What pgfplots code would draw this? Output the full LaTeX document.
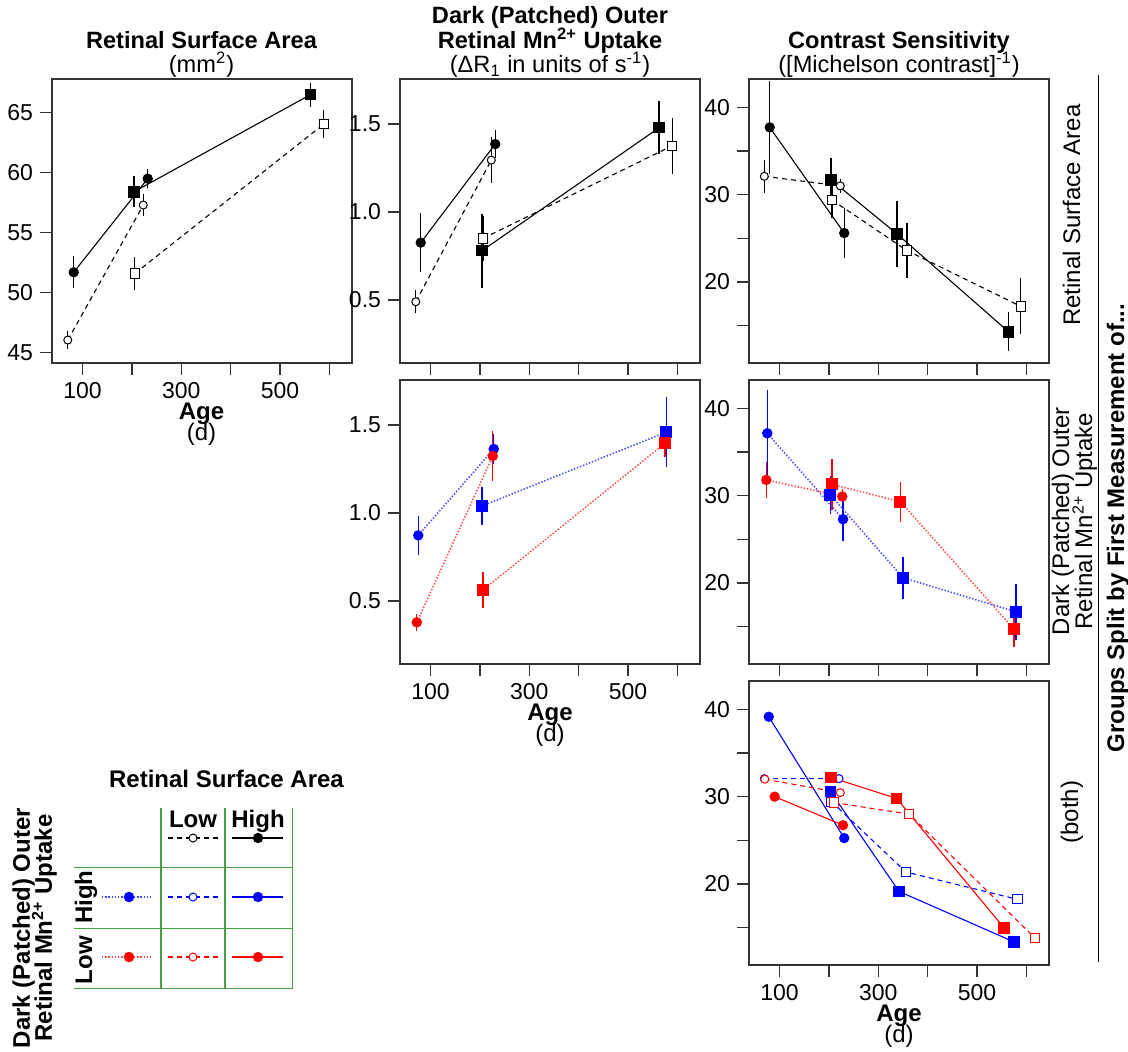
\documentclass[border=0pt]{standalone}
\usepackage{pgfplots}
\pgfplotsset{compat=1.18}
\usepackage{fontspec}
\setmainfont{Liberation Sans}

\definecolor{axgray}{gray}{0.2}
\definecolor{lgreen}{RGB}{70,160,70}
\newcommand\tightlines{\setlength{\lineskiplimit}{-30pt}}

\pgfplotsset{
  panel/.style={
    scale only axis, width=150pt, height=142pt, anchor=north west,
    xmin=38, xmax=646,
    axis line style={axgray, line width=0.6pt},
    tick align=outside, major tick length=6pt,
    every tick/.style={axgray, line width=0.6pt},
    xtick={100,200,300,400,500,600}, xticklabels={},
    xtick pos=lower, ytick pos=left,
    ticklabel style={font=\fontsize{11.5}{13}\selectfont},
    /pgf/number format/assume math mode=true,
  },
  rsay/.style={ymin=44.14, ymax=67.8, ytick={45,50,55,60,65}, yticklabels={45,50,55,60,65}},
  mny/.style={ymin=0.142, ymax=1.756, ytick={0.5,1.0,1.5}, yticklabels={0.5,1.0,1.5}},
  csy/.style={ymin=10.72, ymax=43.24, ytick={15,20,25,30,35,40}, yticklabels={,20,,30,,40}},
  agelab/.style={xticklabels={100,,300,,500,}},
  eb/.style={error bars/y dir=both, error bars/y explicit, error bars/error mark=none,
             error bars/error bar style={solid, line width=0.6pt, draw=#1}},
  eb/.default=black,
  hc/.style={color=#1, solid, line width=0.55pt, mark=*, mark size=2.3pt, mark options={solid, draw=#1, fill=#1}},
  hq/.style={color=#1, solid, line width=0.55pt, mark=square*, mark size=2.6pt, mark options={solid, draw=#1, fill=#1}},
  lc/.style={color=#1, dash pattern=on 2.5pt off 2pt, line width=0.55pt, mark=*, mark size=2pt, mark options={solid, draw=#1, fill=white, line width=0.5pt}},
  lq/.style={color=#1, dash pattern=on 2.5pt off 2pt, line width=0.55pt, mark=square*, mark size=2.3pt, mark options={solid, draw=#1, fill=white, line width=0.5pt}},
  dc/.style={color=#1!70!white, dash pattern=on 0.7pt off 0.9pt, line width=0.8pt, mark=*, mark size=2.2pt, mark options={solid, draw=#1, fill=#1}},
  dq/.style={color=#1!70!white, dash pattern=on 0.7pt off 0.9pt, line width=0.8pt, mark=square*, mark size=2.6pt, mark options={solid, draw=#1, fill=#1}},
}

\begin{document}
\begin{tikzpicture}
\useasboundingbox (0pt,0pt) rectangle (564pt,-525.5pt);

% ---------- Row 1, Col 1: Retinal surface area, split by RSA
\begin{axis}[panel, rsay, agelab, at={(26pt,-39.5pt)}]
\addplot[hc=black, eb] coordinates {(82,51.7) +- (0,1.35) (232,59.5) +- (0,0.8)};
\addplot[hq=black, eb] coordinates {(204,58.4) +- (0,1.3) (562,66.5) +- (0,1.0)};
\addplot[lc=black, eb] coordinates {(70,46.05) +- (0,0.75) (223,57.3) +- (0,0.95)};
\addplot[lq=black, eb] coordinates {(206,51.6) +- (0,1.35) (589,64.05) +- (0,1.15)};
\end{axis}

% ---------- Row 1, Col 2: Mn uptake, split by RSA
\begin{axis}[panel, mny, at={(200pt,-39.5pt)}]
\addplot[hc=black, eb] coordinates {(80,0.826) +- (0,0.166) (231,1.386) +- (0,0.08)};
\addplot[hq=black, eb] coordinates {(204,0.78) +- (0,0.21) (563,1.479) +- (0,0.15)};
\addplot[lc=black, eb] coordinates {(70,0.49) +- (0,0.065) (223,1.295) +- (0,0.13)};
\addplot[lq=black, eb] coordinates {(206,0.85) +- (0,0.13) (590,1.377) +- (0,0.16)};
\end{axis}

% ---------- Row 1, Col 3: Contrast sensitivity, split by RSA
\begin{axis}[panel, csy, at={(374.5pt,-39.5pt)}]
\addplot[hc=black, eb] coordinates {(80,37.7) +- (0,5.3) (231,25.6) +- (0,2.9)};
\addplot[hq=black, eb] coordinates {(204,31.7) +- (0,2.55) (338,25.5) +- (0,3.8) (564,14.3) +- (0,2.25)};
\addplot[lc=black, eb] coordinates {(69,32.1) +- (0,1.9) (223,31.0) +- (0,0.8)};
\addplot[lq=black, eb] coordinates {(206,29.4) +- (0,2.1) (358,23.6) +- (0,3.2) (589,17.2) +- (0,3.2)};
\end{axis}

% ---------- Row 2, Col 2: Mn uptake, split by Mn uptake
\begin{axis}[panel, mny, agelab, at={(200pt,-190pt)}]
\addplot[dc=blue, eb=blue] coordinates {(75,0.873) +- (0,0.11) (228,1.364) +- (0,0.085)};
\addplot[dq=blue, eb=blue] coordinates {(204,1.04) +- (0,0.11) (578,1.46) +- (0,0.2)};
\addplot[dc=red, eb=red] coordinates {(72,0.379) +- (0,0.05) (226,1.324) +- (0,0.14)};
\addplot[dq=red, eb=red] coordinates {(206,0.5625) +- (0,0.1) (575,1.396) +- (0,0.08)};
\end{axis}

% ---------- Row 2, Col 3: Contrast sensitivity, split by Mn uptake
\begin{axis}[panel, csy, at={(374.5pt,-190pt)}]
\addplot[dc=red, eb=red] coordinates {(73,31.8) +- (0,2.1) (227,29.9) +- (0,0.9)};
\addplot[dq=red, eb=red] coordinates {(206,31.3) +- (0,2.9) (345,29.3) +- (0,2.3) (575,14.7) +- (0,2.0)};
\addplot[dc=blue, eb=blue] coordinates {(75,37.14) +- (0,5.0) (228.6,27.3) +- (0,2.5)};
\addplot[dq=blue, eb=blue] coordinates {(203,30.1) +- (0,2.2) (350,20.6) +- (0,2.4) (579,16.7) +- (0,3.2)};
\end{axis}

% ---------- Row 3, Col 3: Contrast sensitivity, split by both
\begin{axis}[panel, csy, agelab, at={(374.5pt,-340.5pt)}]
\addplot[hc=blue] coordinates {(78,39.15) (231,25.25)};
\addplot[hq=blue] coordinates {(203.5,30.57) (342,19.15) (575,13.37)};
\addplot[lc=blue] coordinates {(69,32.06) (220.5,32.06)};
\addplot[lq=blue] coordinates {(205,29.43) (356,21.37) (582,18.24)};
\addplot[hc=red] coordinates {(90,30.0) (228.5,26.73)};
\addplot[hq=red] coordinates {(204,32.2) (337,29.8) (555,14.97)};
\addplot[lc=red] coordinates {(70,32.0) (223,30.46)};
\addplot[lq=red] coordinates {(210,29.32) (362.5,28.0) (618,13.78)};
\end{axis}

% ---------- Legend grid (coordinates in reference pixels)
\begin{axis}[scale only axis, width=150pt, height=145.5pt, anchor=north west, at={(0pt,-380pt)},
  xmin=0, xmax=300, ymin=760, ymax=1051, y dir=reverse, axis lines=none, clip=false]
\draw[lgreen, line width=0.6pt] (axis cs:161,808) -- (axis cs:161,988.3);
\draw[lgreen, line width=0.6pt] (axis cs:225,808) -- (axis cs:225,988.3);
\draw[lgreen, line width=0.6pt] (axis cs:292.7,808) -- (axis cs:292.7,988.3);
\draw[lgreen, line width=0.6pt] (axis cs:74,867.3) -- (axis cs:292.7,867.3);
\draw[lgreen, line width=0.6pt] (axis cs:74,928.3) -- (axis cs:292.7,928.3);
\draw[lgreen, line width=0.6pt] (axis cs:74,988.3) -- (axis cs:292.7,988.3);
\addplot[lc=black, mark indices={2}] coordinates {(168,838) (193,838) (218,838)};
\addplot[hc=black, mark indices={2}] coordinates {(232,838) (258,838) (283,838)};
\addplot[dc=blue, mark indices={2}] coordinates {(102,897) (129,897) (153,897)};
\addplot[lc=blue, mark indices={2}] coordinates {(168,897) (193,897) (218,897)};
\addplot[hc=blue, mark indices={2}] coordinates {(232,897) (258,897) (283,897)};
\addplot[dc=red, mark indices={2}] coordinates {(102,957) (129,957) (153,957)};
\addplot[lc=red, mark indices={2}] coordinates {(168,957) (193,957) (218,957)};
\addplot[hc=red, mark indices={2}] coordinates {(232,957) (258,957) (283,957)};
\end{axis}

% ---------- Texts (coordinates in reference pixels)
\begin{scope}[x=0.5pt, y=-0.5pt, every node/.style={inner sep=0pt, align=center, font=\fontsize{12}{11}\selectfont\tightlines}]
% column titles
\node[anchor=north, font=\fontsize{11.8}{12.3}\selectfont\tightlines] at (201.5,30.6) {\bfseries Retinal Surface Area\\(mm\textsuperscript{2})};
\node[anchor=north, font=\fontsize{11.8}{12.3}\selectfont\tightlines] at (550,6) {\bfseries Dark (Patched) Outer\\\bfseries Retinal Mn\textsuperscript{2+} Uptake\\(ΔR\textsubscript{1} in units of s\textsuperscript{-1})};
\node[anchor=north, font=\fontsize{11.8}{12.3}\selectfont\tightlines] at (899,30.6) {\bfseries Contrast Sensitivity\\([Michelson contrast]\textsuperscript{-1})};
% x labels
\node[anchor=north, font=\fontsize{12}{10.5}\selectfont\tightlines] at (201.5,402.5) {\bfseries Age\\(d)};
\node[anchor=north, font=\fontsize{12}{10.5}\selectfont\tightlines] at (550,703.5) {\bfseries Age\\(d)};
\node[anchor=north, font=\fontsize{12}{10.5}\selectfont\tightlines] at (899,1004.5) {\bfseries Age\\(d)};
% strip labels
\node[anchor=base, rotate=90] at (1080,215) {Retinal Surface Area};
\node[anchor=center, rotate=90, font=\fontsize{12}{11.5}\selectfont\tightlines] at (1074.5,521) {Dark (Patched) Outer\\Retinal Mn\textsuperscript{2+} Uptake};
\node[anchor=base, rotate=90] at (1078,812) {(both)};
\draw[line width=0.6pt] (1098.5,75) -- (1098.5,962);
\node[anchor=base, rotate=90] at (1124,528) {\bfseries Groups Split by First Measurement of...};
% legend texts
\node[anchor=base] at (226.5,787) {\bfseries Retinal Surface Area};
\node[anchor=base] at (193,827) {\bfseries Low};
\node[anchor=base] at (258,827) {\bfseries High};
\node[anchor=base, rotate=90] at (92,897) {\bfseries High};
\node[anchor=base, rotate=90] at (92,960) {\bfseries Low};
\node[anchor=center, rotate=90] at (34.6,928) {\bfseries Dark (Patched) Outer\\\bfseries Retinal Mn\textsuperscript{2+} Uptake};
\end{scope}
\end{tikzpicture}
\end{document}
